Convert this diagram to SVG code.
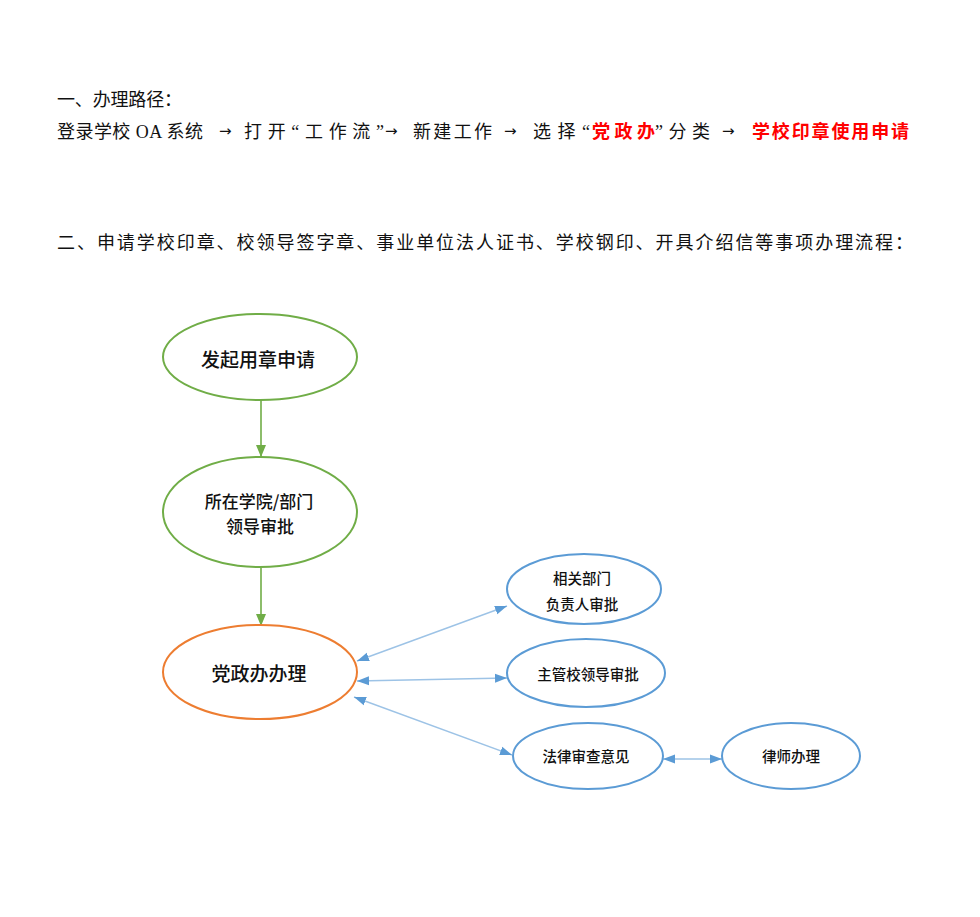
<svg xmlns="http://www.w3.org/2000/svg" width="980" height="917" viewBox="0 0 980 917">
<defs>
<style>
.t{font-family:"Liberation Serif","Noto Sans CJK SC",serif;font-size:18px;fill:#111;dominant-baseline:central}
.ar{font-family:"DejaVu Sans",sans-serif;font-size:15px;fill:#111;dominant-baseline:central}
.red{fill:#ff0000;font-weight:bold}
.n{font-family:"Noto Sans CJK SC","Liberation Sans",sans-serif;font-weight:500;fill:#111;text-anchor:middle;dominant-baseline:central}
.g{fill:#fff;stroke:#70AD47;stroke-width:2}
.o{fill:#fff;stroke:#ED7D31;stroke-width:2}
.b{fill:#fff;stroke:#5B9BD5;stroke-width:2}
.gl{stroke:#70AD47;stroke-width:1.6;fill:none}
.bl{stroke:#9DC3E6;stroke-width:1.4;fill:none}
</style>
<marker id="ga" markerUnits="userSpaceOnUse" markerWidth="12" markerHeight="12" viewBox="0 0 12 12" refX="12" refY="6" orient="auto">
<path d="M0,1 L12,6 L0,11 Z" fill="#70AD47"/>
</marker>
<marker id="ba" markerUnits="userSpaceOnUse" markerWidth="12" markerHeight="10" viewBox="0 0 12 10" refX="12" refY="5" orient="auto-start-reverse">
<path d="M0,0.5 L12,5 L0,9.5 Z" fill="#5B9BD5"/>
</marker>
</defs>
<rect width="980" height="917" fill="#fff"/>

<g id="heading1">
<text class="t" x="57" y="100" textLength="125">一、办理路径：</text>
</g>
<g id="path-line">
<text class="t" x="57" y="132" textLength="146">登录学校 OA 系统</text>
<text class="ar" x="219" y="131">→</text>
<text class="t" x="244" y="132" textLength="140">打开“工作流”</text>
<text class="ar" x="385" y="131">→</text>
<text class="t" x="413" y="132" textLength="79">新建工作</text>
<text class="ar" x="504" y="131">→</text>
<text class="t" x="533" y="132" textLength="57">选择“</text>
<text class="t red" x="592" y="132" textLength="63">党政办</text>
<text class="t" x="655" y="132" textLength="55">”分类</text>
<text class="ar" x="722" y="131">→</text>
<text class="t red" x="752" y="132" textLength="157">学校印章使用申请</text>
</g>
<g id="heading2">
<text class="t" x="57" y="243" font-size="19" textLength="856">二、申请学校印章、校领导签字章、事业单位法人证书、学校钢印、开具介绍信等事项办理流程：</text>
</g>

<g id="connectors">
<line class="gl" x1="261" y1="400" x2="261" y2="457" marker-end="url(#ga)"/>
<line class="gl" x1="261" y1="568" x2="261" y2="626" marker-end="url(#ga)"/>
<line class="bl" x1="357" y1="661" x2="507" y2="606" marker-start="url(#ba)" marker-end="url(#ba)"/>
<line class="bl" x1="357" y1="681" x2="507" y2="678" marker-start="url(#ba)" marker-end="url(#ba)"/>
<line class="bl" x1="354" y1="697" x2="512" y2="755" marker-start="url(#ba)" marker-end="url(#ba)"/>
<line class="bl" x1="663" y1="759" x2="722" y2="759" marker-start="url(#ba)" marker-end="url(#ba)"/>
</g>

<g id="node-start">
<ellipse class="g" cx="260" cy="357" rx="97" ry="43"/>
<text class="n" x="258" y="358" font-size="19">发起用章申请</text>
</g>
<g id="node-dept">
<ellipse class="g" cx="260" cy="512" rx="97" ry="55"/>
<text class="n" x="259" y="500" font-size="17">所在学院/部门</text>
<text class="n" x="260" y="525" font-size="17">领导审批</text>
</g>
<g id="node-office">
<ellipse class="o" cx="260" cy="672" rx="97" ry="47"/>
<text class="n" x="259" y="672" font-size="19">党政办办理</text>
</g>
<g id="node-related">
<ellipse class="b" cx="584" cy="589" rx="77" ry="35"/>
<text class="n" x="582" y="577" font-size="14.5">相关部门</text>
<text class="n" x="582" y="603" font-size="14.5">负责人审批</text>
</g>
<g id="node-leader">
<ellipse class="b" cx="586" cy="673" rx="79" ry="34"/>
<text class="n" x="588" y="673" font-size="14.5">主管校领导审批</text>
</g>
<g id="node-legal">
<ellipse class="b" cx="588" cy="756" rx="75" ry="33"/>
<text class="n" x="586" y="755" font-size="14.5">法律审查意见</text>
</g>
<g id="node-lawyer">
<ellipse class="b" cx="791" cy="756" rx="69" ry="33"/>
<text class="n" x="791" y="755" font-size="14.5">律师办理</text>
</g>
</svg>
